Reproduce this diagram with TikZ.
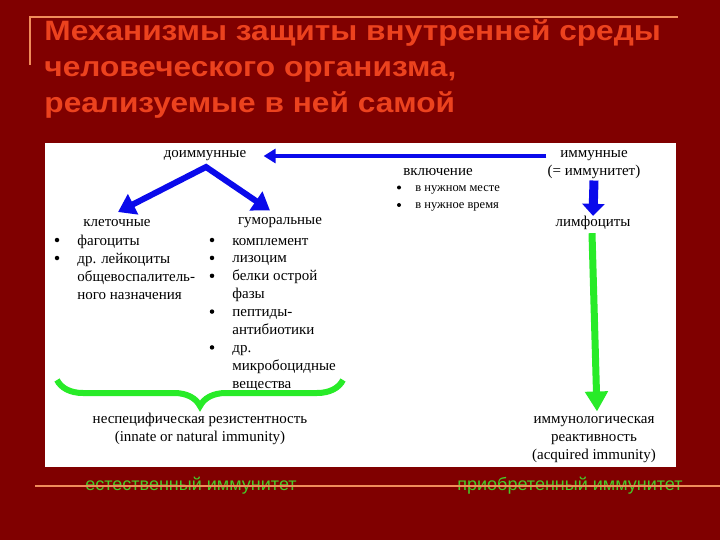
\documentclass[tikz,border=0pt]{standalone}
\usepackage{fontspec}
\setmainfont{Liberation Serif}
\newfontfamily\headfont{Liberation Sans}
\usetikzlibrary{arrows.meta,decorations.pathreplacing}
\definecolor{bgred}{RGB}{128,0,0}
\definecolor{headred}{RGB}{236,66,30}
\definecolor{rulecol}{RGB}{240,140,90}
\definecolor{arrowblue}{RGB}{10,10,235}
\definecolor{arrowgreen}{RGB}{40,235,40}
\definecolor{labelgreen}{RGB}{70,205,40}

\begin{document}
\begin{tikzpicture}
[x=1pt, y=-1pt, line width=0.75pt,
txt/.style={font=\fontsize{15}{18}\selectfont, inner sep=1pt, align=center},
item/.style={font=\fontsize{15}{18}\selectfont, inner sep=0pt, anchor=base west},
small/.style={font=\fontsize{12.5}{14}\selectfont, inner sep=0pt, anchor=base west},
dot/.style={circle, fill=black, inner sep=0pt, minimum size=4.5pt},
head/.style={font=\headfont\bfseries\fontsize{28}{30}\selectfont, text=headred, anchor=base west,
    inner sep=0pt, xscale=1.13, transform shape},
foot/.style={font=\headfont\fontsize{18}{20}\selectfont, text=labelgreen, inner sep=0pt},
bluearrow/.style={draw=arrowblue, line width=6pt, line join=miter, {Triangle[length=17pt, width=22pt]}-{Triangle[length=17pt, width=22pt]}}]

\fill[bgred] (0,0) rectangle (720,540);
\useasboundingbox (0,0) rectangle (720,540);
\fill[white] (45,143) rectangle (676,467);

% title
\draw[rulecol, line width=1.2pt] (30,65) -- (30,17) -- (678,17);
\node[head] (title1) at (44,41) {Механизмы защиты внутренней среды};
\node[head] (title2) at (44,77) {человеческого организма,};
\node[head] (title3) at (44,113) {реализуемые в ней самой};

% upper row
\node[txt] (doimm) at (205,156) {доиммунные};
\node[txt] (imm) at (594,165) {иммунные\\(= иммунитет)};
\node[txt] (vkl) at (438,172) {включение};
\draw[arrowblue, line width=3.5pt, -{Triangle[length=12pt, width=14pt]}]
    (imm.west |- doimm.east) -- ([xshift=16pt]doimm.east);

\foreach \t [count=\i] in {в нужном месте, в нужное время} {
    \node[dot, minimum size=4pt] (vdot\i) at (399,170+17.5*\i) {};
    \node[small] (vitem\i) at (415,174+17.5*\i) {\t};
}

% doimmune branch
\coordinate (apex) at (206,167);
\node[txt] (kletoch) at (117,223) {клеточные};
\node[txt] (gumor) at (280,223) {гуморальные};
\draw[bluearrow] ([xshift=1pt,yshift=6pt]kletoch.north) -- (apex) -- ([xshift=-10pt,yshift=6pt]gumor.north);

\foreach \t/\b [count=\i] in {фагоциты/1, др. лейкоциты/1, общевоспалитель-/0, ного назначения/0} {
    \node[item] (litem\i) at (77,245+18*\i-18) {\t};
    \ifnum\b=1 \node[dot] (ldot\i) at (57,240+18*\i-18) {}; \fi
}
\foreach \t/\b [count=\i] in {комплемент/1, лизоцим/1, белки острой/1, фазы/0, пептиды-/1,
    антибиотики/0, др./1, микробоцидные/0, вещества/0} {
    \node[item] (ritem\i) at (232,245+17.9*\i-17.9) {\t};
    \ifnum\b=1 \node[dot] (rdot\i) at (212,240+17.9*\i-17.9) {}; \fi
}

\draw[arrowgreen, line width=6pt, decorate,
    decoration={brace, mirror, amplitude=26pt, aspect=0.5}] (57,380) -- (343,380);
\node[txt] (nespec) at (200,429) {неспецифическая резистентность\\(innate or natural immunity)};

% immune branch
\node[txt] (limfo) at (593,223) {лимфоциты};
\draw[arrowblue, line width=9pt, -{Triangle[length=12pt, width=22pt]}]
    (imm.south) -- ([yshift=-1pt]limfo.north);
\node[txt] (immreakt) at (594,440) {иммунологическая\\реактивность\\(acquired immunity)};
\draw[arrowgreen, line width=7pt, -{Triangle[length=20pt, width=22pt]}]
    ([xshift=-1pt,yshift=-2pt]limfo.south) -- ([xshift=3pt,yshift=4pt]immreakt.north);

% footer
\node[foot] (estest) at (191,486) {естественный иммунитет};
\node[foot] (priobr) at (570,486) {приобретенный иммунитет};
\draw[rulecol, line width=1.2pt] (35,486) -- (720,486);
\end{tikzpicture}
\end{document}
